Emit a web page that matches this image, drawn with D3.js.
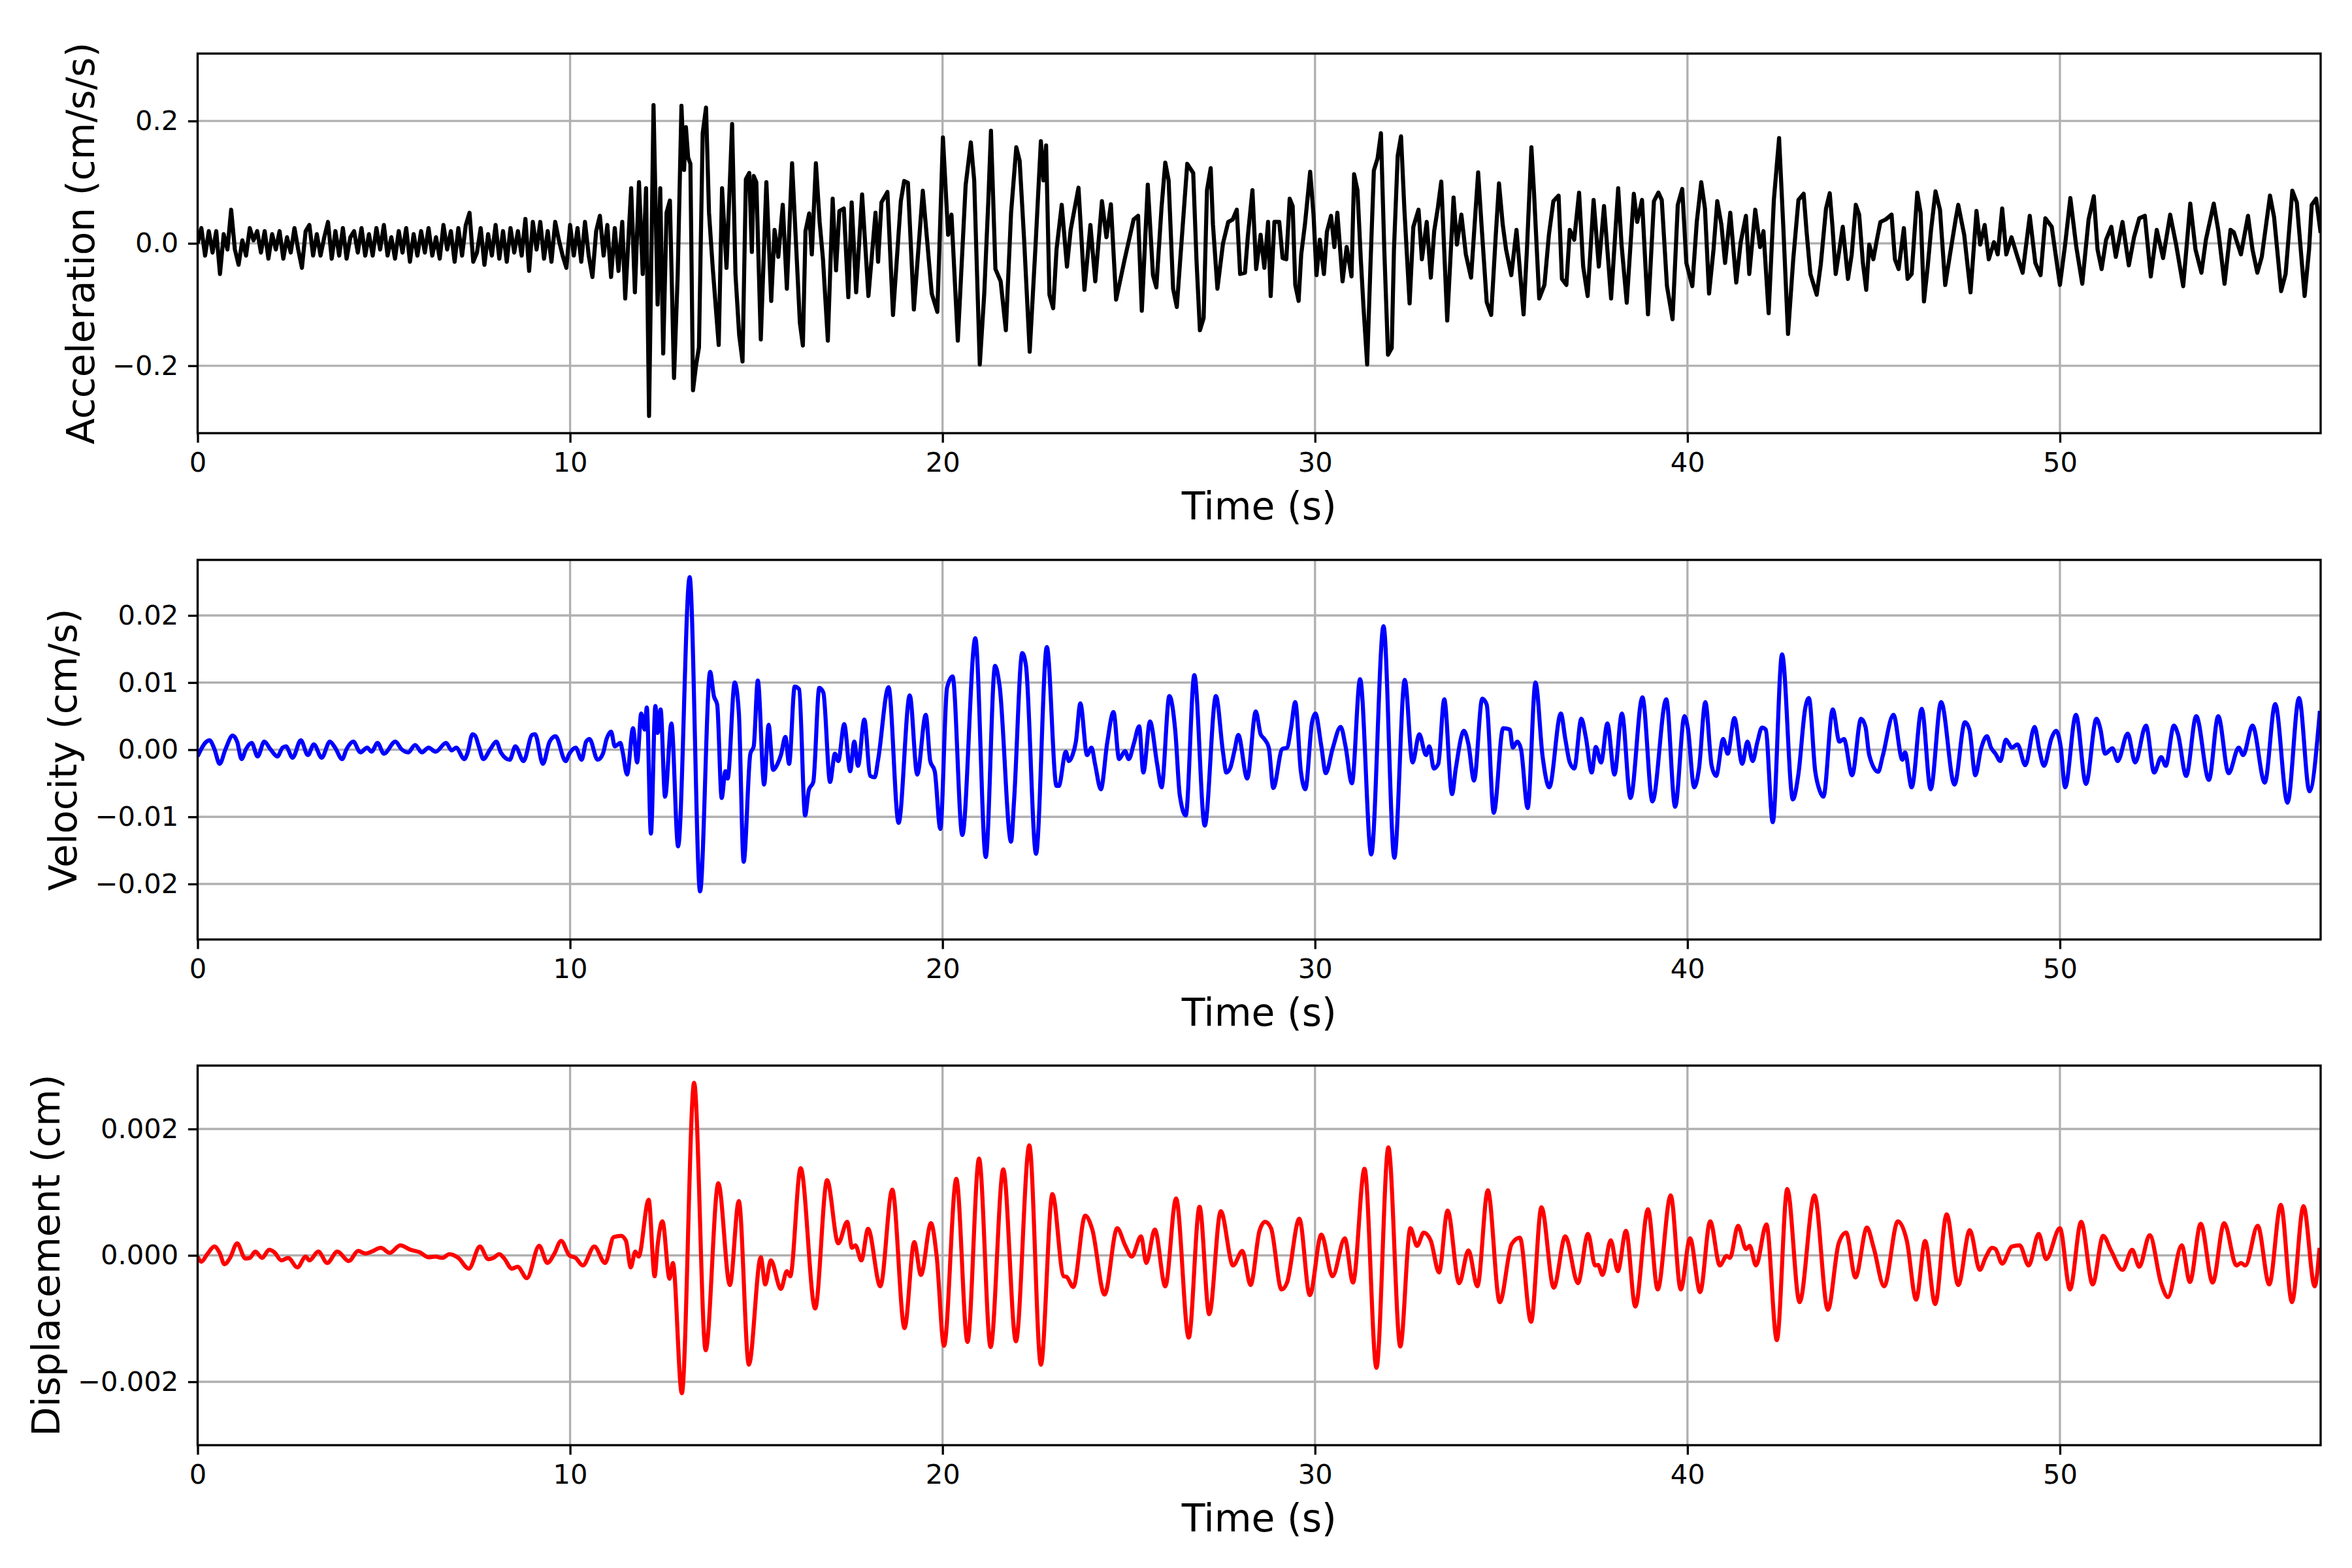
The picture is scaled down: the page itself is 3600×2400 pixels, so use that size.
<!DOCTYPE html>
<html>
<head>
<meta charset="utf-8">
<script src="https://cdn.jsdelivr.net/npm/d3@7"></script>
<style>
  body { margin: 0; background: #fff; }
  text { font-family: "DejaVu Sans", sans-serif; fill: #000; }
</style>
</head>
<body>
<svg id="chart" width="3600" height="2400"></svg>
<script>
// values: [time (s), value]
const accelData = [
  [0.0,0.0],[0.1,0.025],[0.2,-0.02],[0.3,0.02],[0.4,-0.015],[0.5,0.02],[0.6,-0.05],[0.7,0.015],[0.8,-0.01],[0.9,0.055],
  [1.0,-0.01],[1.1,-0.035],[1.2,0.005],[1.3,-0.02],[1.4,0.025],[1.5,0.005],[1.6,0.02],[1.7,-0.015],[1.8,0.02],[1.9,-0.025],
  [2.0,0.015],[2.1,-0.01],[2.2,0.02],[2.3,-0.025],[2.4,0.01],[2.5,-0.015],[2.6,0.025],[2.7,-0.01],[2.8,-0.04],[2.9,0.02],
  [3.0,0.03],[3.1,-0.02],[3.2,0.015],[3.3,-0.02],[3.4,0.01],[3.5,0.035],[3.6,-0.025],[3.7,0.02],[3.8,-0.02],[3.9,0.025],
  [4.0,-0.025],[4.1,0.01],[4.2,0.02],[4.3,-0.015],[4.4,0.025],[4.5,-0.02],[4.6,0.015],[4.7,-0.02],[4.8,0.025],[4.9,-0.01],
  [5.0,0.03],[5.1,-0.02],[5.2,0.01],[5.3,-0.025],[5.4,0.02],[5.5,-0.015],[5.6,0.025],[5.7,-0.03],[5.8,0.015],[5.9,-0.02],
  [6.0,0.02],[6.1,-0.015],[6.2,0.025],[6.3,-0.02],[6.4,0.01],[6.5,-0.025],[6.6,0.03],[6.7,-0.01],[6.8,0.02],[6.9,-0.03],
  [7.0,0.025],[7.1,-0.02],[7.2,0.03],[7.3,0.05],[7.4,-0.03],[7.5,-0.015],[7.6,0.025],[7.7,-0.035],[7.8,0.015],[7.9,-0.02],
  [8.0,0.03],[8.1,-0.025],[8.2,0.02],[8.3,-0.03],[8.4,0.025],[8.5,-0.015],[8.6,0.02],[8.7,-0.02],[8.8,0.04],[8.9,-0.045],
  [9.0,0.035],[9.1,-0.01],[9.2,0.035],[9.3,-0.025],[9.4,0.02],[9.5,-0.03],[9.6,0.035],[9.7,0.005],[9.8,-0.02],[9.9,-0.04],
  [10.0,0.03],[10.1,-0.02],[10.2,0.025],[10.3,-0.03],[10.4,0.035],[10.5,-0.02],[10.6,-0.055],[10.7,0.02],[10.8,0.045],[10.9,-0.02],
  [11.0,0.03],[11.1,-0.055],[11.2,0.025],[11.3,-0.045],[11.4,0.035],
  [11.48,-0.09],[11.56,0.0],[11.64,0.09],[11.74,-0.08],[11.85,0.10],[11.95,-0.05],[12.04,0.09],[12.12,-0.282],[12.24,0.226],[12.35,-0.10],
  [12.42,0.09],[12.50,-0.18],[12.59,0.05],[12.68,0.07],[12.79,-0.22],[12.89,-0.05],[12.99,0.225],[13.06,0.12],[13.11,0.19],[13.17,0.14],
  [13.23,0.13],[13.30,-0.24],[13.38,-0.20],[13.46,-0.17],[13.56,0.18],[13.65,0.222],[13.73,0.05],[13.83,-0.04],[13.99,-0.166],
  [14.08,0.09],[14.20,-0.04],[14.35,0.195],[14.44,-0.05],[14.54,-0.15],[14.63,-0.193],[14.72,0.105],[14.81,0.115],[14.88,-0.014],[14.93,0.11],
  [15.00,0.10],[15.12,-0.157],[15.27,0.10],[15.40,-0.094],[15.49,0.022],[15.59,-0.022],[15.71,0.063],[15.82,-0.074],[15.96,0.131],[16.08,-0.018],
  [16.17,-0.13],[16.25,-0.167],[16.32,0.02],[16.42,0.049],[16.49,-0.018],[16.60,0.131],[16.70,0.035],[16.79,-0.026],[16.92,-0.159],[17.05,0.073],
  [17.14,-0.044],[17.23,0.053],[17.35,0.057],[17.47,-0.088],[17.56,0.067],[17.68,-0.08],[17.84,0.08],[18.01,-0.086],[18.20,0.05],[18.27,-0.03],
  [18.36,0.067],[18.52,0.084],[18.67,-0.117],[18.88,0.069],[18.97,0.102],[19.07,0.099],[19.23,-0.108],[19.47,0.086],[19.71,-0.082],[19.86,-0.112],
  [20.01,0.173],[20.15,0.014],[20.24,0.047],[20.41,-0.159],[20.62,0.095],[20.76,0.165],[20.85,0.103],[21.00,-0.198],[21.12,-0.082],[21.23,0.071],
  [21.30,0.184],[21.42,-0.042],[21.56,-0.062],[21.70,-0.142],[21.84,0.05],[21.98,0.157],[22.07,0.135],[22.19,0.006],[22.34,-0.177],[22.50,0.0],
  [22.64,0.167],[22.71,0.103],[22.78,0.16],[22.87,-0.084],[22.97,-0.106],[23.06,-0.01],[23.20,0.063],[23.34,-0.038],[23.44,0.022],[23.65,0.091],
  [23.81,-0.076],[23.97,0.03],[24.10,-0.062],[24.28,0.069],[24.40,0.01],[24.52,0.064],[24.66,-0.092],[24.89,-0.026],[25.13,0.039],[25.25,0.045],
  [25.35,-0.11],[25.51,0.096],[25.65,-0.052],[25.74,-0.072],[25.88,0.059],[25.98,0.132],[26.07,0.103],[26.19,-0.074],[26.29,-0.104],[26.38,-0.028],
  [26.57,0.13],[26.73,0.115],[26.82,-0.03],[26.91,-0.142],[27.01,-0.122],[27.10,0.087],[27.20,0.123],[27.26,0.031],[27.38,-0.074],[27.53,0.0],
  [27.67,0.035],[27.79,0.039],[27.90,0.055],[27.99,-0.05],[28.12,-0.048],[28.20,0.014],[28.32,0.087],[28.42,-0.042],[28.54,0.014],[28.64,-0.04],
  [28.74,0.035],[28.81,-0.086],[28.91,0.035],[29.04,0.035],[29.13,-0.024],[29.23,-0.026],[29.32,0.073],[29.40,0.061],[29.47,-0.068],[29.56,-0.094],
  [29.63,-0.018],[29.73,0.031],[29.87,0.117],[29.96,0.047],[30.04,-0.052],[30.13,0.006],[30.24,-0.05],[30.32,0.019],[30.43,0.045],[30.52,-0.006],
  [30.60,0.05],[30.74,-0.062],[30.85,-0.006],[30.98,-0.054],[31.05,0.113],[31.14,0.087],[31.23,-0.026],[31.30,-0.102],[31.40,-0.198],[31.49,-0.034],
  [31.58,0.119],[31.68,0.139],[31.77,0.18],[31.86,-0.01],[31.96,-0.182],[32.06,-0.171],[32.12,-0.01],[32.22,0.143],[32.31,0.175],[32.40,0.055],
  [32.54,-0.098],[32.64,0.027],[32.78,0.055],[32.87,-0.026],[33.00,0.035],[33.11,-0.056],[33.20,0.02],[33.30,0.059],[33.39,0.101],[33.55,-0.126],
  [33.72,0.075],[33.81,-0.002],[33.93,0.047],[34.05,-0.018],[34.19,-0.056],[34.38,0.116],[34.47,0.031],[34.61,-0.096],[34.73,-0.117],[34.85,0.01],
  [34.94,0.098],[35.04,0.031],[35.13,-0.01],[35.27,-0.052],[35.41,0.022],[35.60,-0.116],[35.69,-0.01],[35.81,0.157],[35.88,0.083],[36.02,-0.09],
  [36.16,-0.068],[36.28,0.014],[36.40,0.069],[36.54,0.078],[36.63,-0.058],[36.75,-0.068],[36.84,0.022],[36.96,0.006],[37.09,0.083],[37.20,-0.038],
  [37.32,-0.086],[37.48,0.071],[37.62,-0.038],[37.76,0.061],[37.95,-0.09],[38.14,0.09],[38.23,-0.002],[38.37,-0.097],[38.56,0.081],[38.65,0.035],
  [38.78,0.071],[38.94,-0.116],[39.10,0.069],[39.22,0.083],[39.31,0.071],[39.45,-0.07],[39.60,-0.124],[39.74,0.063],[39.86,0.089],[39.97,-0.032],
  [40.13,-0.07],[40.25,0.035],[40.37,0.10],[40.47,0.057],[40.58,-0.082],[40.70,-0.01],[40.80,0.069],[40.91,0.031],[41.01,-0.032],[41.15,0.05],
  [41.31,-0.064],[41.43,0.002],[41.57,0.045],[41.66,-0.05],[41.82,0.055],[41.95,-0.006],[42.04,0.02],[42.18,-0.114],[42.32,0.071],[42.46,0.172],
  [42.57,0.031],[42.70,-0.148],[42.84,-0.026],[42.98,0.071],[43.12,0.081],
  [43.20,0.018],[43.30,-0.05],[43.47,-0.084],[43.58,-0.034],[43.72,0.057],[43.82,0.082],[43.89,0.03],[43.98,-0.05],[44.08,-0.01],[44.17,0.027],
  [44.31,-0.058],[44.41,-0.018],[44.52,0.063],[44.61,0.047],[44.71,-0.032],[44.80,-0.076],[44.88,-0.002],[44.99,-0.026],[45.08,0.004],[45.18,0.035],
  [45.32,0.039],[45.48,0.047],[45.57,-0.026],[45.67,-0.042],[45.81,0.025],[45.91,-0.058],[46.02,-0.05],[46.17,0.083],[46.26,0.05],[46.35,-0.095],
  [46.45,-0.038],[46.54,0.022],[46.66,0.085],[46.78,0.055],[46.92,-0.068],[47.06,-0.014],[47.20,0.039],[47.27,0.063],[47.43,0.014],[47.60,-0.08],
  [47.76,0.053],[47.86,-0.002],[47.98,0.03],[48.09,-0.026],[48.23,0.002],[48.33,-0.018],[48.45,0.057],[48.56,-0.018],[48.70,0.01],[48.86,-0.022],
  [49.00,-0.048],[49.19,0.045],[49.34,-0.032],[49.48,-0.052],[49.61,0.041],[49.78,0.027],[50.00,-0.068],[50.14,-0.002],[50.28,0.074],[50.44,-0.006],
  [50.60,-0.066],[50.77,0.039],[50.91,0.077],[51.01,-0.01],[51.12,-0.042],[51.24,0.006],[51.38,0.027],[51.50,-0.022],[51.68,0.035],[51.85,-0.036],
  [51.99,0.01],[52.13,0.041],[52.28,0.045],[52.44,-0.054],[52.60,0.022],[52.77,-0.024],[52.96,0.047],[53.12,-0.002],[53.31,-0.07],[53.50,0.065],
  [53.64,-0.01],[53.80,-0.048],[53.92,0.006],[54.13,0.065],[54.25,0.022],[54.42,-0.066],[54.58,0.022],[54.67,0.018],[54.86,-0.018],[55.05,0.045],
  [55.17,-0.01],[55.30,-0.048],[55.42,-0.022],[55.64,0.078],[55.75,0.043],[55.94,-0.078],[56.06,-0.05],[56.24,0.086],[56.36,0.067],[56.57,-0.086],
  [56.69,-0.01],[56.76,0.063],[56.88,0.073],[57.00,0.017]
];

const velocityData = [
  [0.0,-0.001],[0.2,0.001],[0.32,0.0014],[0.45,0.0001],[0.59,-0.0021],[0.75,0.0001],[0.94,0.0021],[1.06,0.0012],[1.18,-0.0014],[1.30,0.0001],
  [1.45,0.001],[1.61,-0.001],[1.79,0.0012],[1.95,0.0001],[2.14,-0.001],[2.28,0.0003],[2.37,0.0005],[2.55,-0.0012],[2.77,0.0014],[2.96,-0.0008],
  [3.12,0.0008],[3.33,-0.0012],[3.55,0.0012],[3.69,0.0003],[3.88,-0.0014],[4.00,0.0001],[4.18,0.0012],[4.37,-0.0004],[4.55,0.0003],[4.67,-0.0003],
  [4.83,0.001],[5.00,-0.0006],[5.31,0.0012],[5.47,0.0001],[5.65,-0.0004],[5.84,0.0007],[6.02,-0.0004],[6.20,0.0003],[6.39,-0.0003],[6.67,0.001],
  [6.82,-0.0001],[6.94,0.0003],[7.16,-0.0014],[7.24,-0.0006],[7.38,0.0023],[7.45,0.0021],[7.55,0.0005],[7.67,-0.0014],[7.86,0.0001],[8.02,0.0012],
  [8.14,-0.0004],[8.38,-0.0015],[8.53,0.0005],[8.75,-0.0017],[8.98,0.0022],[9.06,0.0023],[9.27,-0.0021],[9.45,0.0012],[9.61,0.002],[9.88,-0.0017],
  [9.98,-0.0006],[10.15,0.0003],[10.31,-0.0015],[10.43,0.0012],[10.52,0.0016],[10.74,-0.0015],[10.88,-0.0006],[10.98,0.0016],[11.10,0.0027],[11.20,0.0005],
  [11.35,0.001],[11.41,-0.0003],[11.53,-0.0037],[11.69,0.0032],[11.80,-0.0019],[11.91,0.0054],[12.00,0.003],[12.06,0.0063],[12.17,-0.0125],[12.29,0.0065],
  [12.35,0.0025],[12.43,0.006],[12.55,-0.007],[12.72,0.0039],[12.90,-0.0144],[13.21,0.0257],[13.49,-0.0211],[13.76,0.0116],[13.86,0.008],[13.95,0.0067],
  [14.07,-0.0072],[14.17,-0.0032],[14.23,-0.0043],[14.42,0.01],[14.53,0.0056],[14.66,-0.0167],[14.84,-0.0006],[14.93,0.0005],[15.04,0.0103],[15.21,-0.0052],
  [15.33,0.0037],[15.45,-0.003],[15.57,-0.0021],[15.66,-0.0008],[15.78,0.0019],[15.88,-0.0021],[16.03,0.0094],[16.15,0.009],[16.31,-0.0098],[16.41,-0.006],
  [16.53,-0.0048],[16.69,0.0092],[16.80,0.0085],[16.98,-0.0048],[17.11,-0.0006],[17.20,-0.0017],[17.36,0.0038],[17.52,-0.0032],[17.63,0.0012],[17.73,-0.0024],
  [17.90,0.0045],[18.06,-0.0039],[18.18,-0.0041],[18.27,-0.0015],[18.55,0.0093],[18.82,-0.0109],[19.12,0.0081],[19.32,-0.0037],[19.55,0.0052],[19.67,-0.0017],
  [19.79,-0.0032],[19.94,-0.0118],[20.12,0.0092],[20.27,0.0109],[20.53,-0.0127],[20.88,0.0166],[21.16,-0.016],[21.41,0.0125],[21.53,0.0096],[21.84,-0.0137],
  [21.92,-0.0076],[22.14,0.0144],[22.24,0.0125],[22.51,-0.0155],[22.80,0.0153],[23.06,-0.0054],[23.12,-0.0054],[23.31,-0.0003],[23.39,-0.0017],[23.49,-0.0008],
  [23.58,0.0012],[23.70,0.0069],[23.88,-0.0008],[24.00,0.0003],[24.10,-0.0023],[24.25,-0.0059],[24.42,0.001],[24.59,0.0056],[24.74,-0.0014],[24.90,-0.0002],
  [25.00,-0.0014],[25.14,0.001],[25.28,0.0035],[25.39,-0.0034],[25.57,0.0042],[25.76,-0.0021],[25.88,-0.0056],[26.09,0.008],[26.25,0.0027],[26.37,-0.0068],
  [26.53,-0.0098],[26.76,0.0111],[27.04,-0.0113],[27.34,0.008],[27.53,-0.0004],[27.62,-0.0034],[27.72,-0.0028],[27.84,-0.0001],[27.94,0.0022],[28.18,-0.0043],
  [28.41,0.0057],[28.54,0.0023],[28.64,0.0016],[28.76,0.0003],[28.88,-0.0057],[29.12,0.0001],[29.25,0.0003],[29.35,0.003],[29.47,0.0071],[29.62,-0.0032],
  [29.74,-0.0059],[29.92,0.0041],[30.01,0.0054],[30.17,0.0005],[30.29,-0.0035],[30.47,0.0001],[30.69,0.0034],[30.82,0.0005],[30.99,-0.005],[31.21,0.0105],
  [31.51,-0.0156],[31.84,0.0184],[32.13,-0.0161],[32.41,0.0104],[32.62,-0.0019],[32.80,0.0023],[32.98,-0.0008],[33.07,0.0005],[33.19,-0.0028],[33.31,-0.0021],
  [33.47,0.0075],[33.68,-0.0066],[33.78,-0.0028],[34.00,0.0028],[34.12,0.0008],[34.27,-0.0046],[34.49,0.0076],[34.61,0.0067],[34.80,-0.0094],[35.05,0.0032],
  [35.23,0.003],[35.31,0.0003],[35.43,0.0012],[35.53,0.0001],[35.71,-0.0087],[35.92,0.01],[36.11,-0.001],[36.29,-0.0056],[36.60,0.0054],[36.72,0.0016],
  [36.84,-0.0019],[36.96,-0.0028],[37.15,0.0046],[37.27,0.0019],[37.43,-0.0034],[37.54,0.0004],[37.68,-0.0019],[37.85,0.0039],[38.04,-0.0037],[38.24,0.0054],
  [38.47,-0.0072],[38.79,0.0078],[39.06,-0.0077],[39.43,0.0075],[39.67,-0.0085],[39.92,0.005],[40.01,0.0032],[40.18,-0.0056],[40.31,-0.0028],[40.48,0.0071],
  [40.65,-0.0024],[40.77,-0.0039],[40.96,0.0016],[41.08,-0.0006],[41.26,0.0047],[41.47,-0.0021],[41.61,0.0012],[41.75,-0.0017],[41.88,0.0012],[42.00,0.0033],
  [42.10,0.003],[42.29,-0.0108],[42.54,0.0142],[42.83,-0.0074],[42.98,-0.0036],[43.16,0.0061],[43.26,0.0077],[43.43,-0.0032],[43.55,-0.0061],[43.65,-0.007],
  [43.90,0.006],[44.08,0.0012],[44.20,0.0016],[44.42,-0.0038],[44.66,0.0046],[44.78,0.0034],[44.88,-0.0008],[45.12,-0.0033],[45.24,-0.001],[45.53,0.0052],
  [45.77,-0.0015],[45.84,-0.0004],[46.02,-0.0056],[46.29,0.0061],[46.53,-0.0059],[46.81,0.0071],[47.17,-0.0052],[47.45,0.0041],[47.57,0.003],[47.73,-0.0038],
  [47.88,0.0001],[48.04,0.002],[48.15,0.0003],[48.27,-0.0006],[48.40,-0.0017],[48.55,0.0015],[48.71,0.0003],[48.86,0.0008],[49.07,-0.0023],[49.32,0.0034],
  [49.45,-0.0001],[49.57,-0.0024],[49.78,0.0018],[49.90,0.0028],[50.02,0.0005],[50.14,-0.0056],[50.43,0.0052],[50.70,-0.0051],[50.98,0.0046],[51.09,0.003],
  [51.21,-0.0006],[51.41,0.0002],[51.55,-0.0017],[51.82,0.0024],[52.02,-0.0019],[52.31,0.0036],[52.53,-0.0034],[52.72,-0.0011],[52.84,-0.0024],[53.06,0.0036],
  [53.17,0.0023],[53.39,-0.0039],[53.66,0.005],[54.00,-0.0045],[54.25,0.005],[54.53,-0.0035],[54.80,0.0003],[54.92,-0.0008],[55.17,0.0036],[55.50,-0.0049],
  [55.78,0.0068],[56.11,-0.0079],[56.42,0.0077],[56.70,-0.0062],[56.98,0.0058]
];

const displacementData = [
  [0.0,-0.00002],[0.10,-0.0001],[0.26,0.00002],[0.45,0.00014],[0.59,0.00004],[0.72,-0.00014],[0.87,-0.00004],[1.06,0.00019],[1.28,-0.00005],[1.40,-0.00004],
  [1.55,0.00006],[1.73,-0.00004],[1.92,0.00009],[2.06,0.00005],[2.25,-0.00008],[2.43,-0.00004],[2.68,-0.00019],[2.90,-0.00002],[3.00,-0.00008],[3.24,0.00006],
  [3.48,-0.00012],[3.75,0.00006],[4.06,-0.00009],[4.31,0.00007],[4.51,0.00003],[4.67,0.00006],[4.92,0.00012],[5.16,0.00004],[5.44,0.00016],[5.71,0.00009],
  [5.96,0.00005],[6.20,-0.00003],[6.39,-0.00002],[6.57,-0.00004],[6.76,0.00002],[7.00,-0.00004],[7.28,-0.00021],[7.58,0.00014],[7.80,-0.00006],[7.94,-0.00004],
  [8.10,0.00002],[8.22,-0.00004],[8.44,-0.00021],[8.59,-0.00018],[8.84,-0.00036],[9.17,0.00015],[9.39,-0.00012],[9.57,0.00002],[9.76,0.00023],[9.98,0.0],
  [10.15,-0.00004],[10.34,-0.00016],[10.65,0.00014],[10.94,-0.00012],[11.17,0.00029],[11.37,0.00031],[11.50,0.00023],[11.63,-0.00019],[11.75,0.00006],[11.84,-0.00002],
  [12.11,0.00088],[12.27,-0.00033],[12.35,0.00016],[12.48,0.00054],[12.67,-0.00037],[12.76,-0.00012],[13.00,-0.00218],[13.33,0.00273],[13.64,-0.0015],[13.98,0.00114],
  [14.29,-0.00047],[14.53,0.00086],[14.80,-0.00173],[15.12,-0.00003],[15.24,-0.00046],[15.39,-0.00008],[15.66,-0.00053],[15.82,-0.00025],[15.91,-0.00033],[16.19,0.00138],
  [16.58,-0.00084],[16.90,0.00119],[17.20,0.00019],[17.44,0.00053],[17.57,0.00012],[17.66,0.00016],[17.82,-0.00008],[18.00,0.00042],[18.33,-0.00049],[18.65,0.00104],
  [18.98,-0.00115],[19.24,0.00021],[19.42,-0.00031],[19.69,0.00051],[19.84,0.0],[20.04,-0.00143],[20.37,0.00121],[20.67,-0.00137],[20.98,0.00153],[21.29,-0.00145],
  [21.63,0.00136],[21.97,-0.00136],[22.33,0.00174],[22.64,-0.00173],[22.95,0.00097],[23.25,-0.00033],[23.33,-0.00034],[23.51,-0.0005],[23.83,0.00063],[24.02,0.00041],
  [24.35,-0.00062],[24.69,0.00043],[24.90,0.00016],[25.08,-0.00002],[25.33,0.0003],[25.47,-0.00012],[25.70,0.00041],[25.98,-0.00049],[26.27,0.0009],[26.61,-0.0013],
  [26.90,0.00077],[27.16,-0.00093],[27.47,0.0007],[27.80,-0.00016],[28.05,0.00007],[28.27,-0.00047],[28.51,0.00039],[28.66,0.00053],[28.82,0.00043],[29.10,-0.00054],
  [29.25,-0.00043],[29.58,0.00058],[29.86,-0.00063],[30.17,0.00033],[30.47,-0.00033],[30.80,0.00027],[31.02,-0.00043],[31.33,0.00137],[31.65,-0.00178],[31.97,0.00171],
  [32.29,-0.00144],[32.56,0.00043],[32.74,0.00015],[32.92,0.00036],[33.11,0.00023],[33.33,-0.00027],[33.56,0.00071],[33.87,-0.00044],[34.12,0.00008],[34.36,-0.00049],
  [34.64,0.00103],[34.96,-0.00074],[35.28,0.00018],[35.50,0.00028],[35.80,-0.00105],[36.08,0.00076],[36.41,-0.00051],[36.72,0.0003],[37.06,-0.00044],[37.33,0.00034],
  [37.52,-0.00016],[37.60,-0.00015],[37.72,-0.00031],[37.94,0.00024],[38.13,-0.00025],[38.35,0.00039],[38.60,-0.00081],[38.94,0.00073],[39.20,-0.00054],[39.55,0.00095],
  [39.82,-0.00054],[40.07,0.00027],[40.34,-0.00058],[40.61,0.00054],[40.87,-0.00016],[41.05,-0.00001],[41.14,-0.00004],[41.36,0.00047],[41.57,0.0001],[41.67,0.00015],
  [41.84,-0.00016],[42.12,0.00049],[42.40,-0.00134],[42.68,0.00105],[43.01,-0.00074],[43.41,0.00095],[43.77,-0.00086],[44.06,0.00019],[44.26,0.00036],[44.51,-0.00035],
  [44.82,0.00044],[45.00,0.00012],[45.28,-0.00049],[45.65,0.00054],[45.89,0.00023],[46.14,-0.0007],[46.38,0.00023],[46.65,-0.00077],[46.96,0.00065],[47.27,-0.00047],
  [47.58,0.0004],[47.85,-0.00023],[48.00,-0.00004],[48.18,0.00012],[48.27,0.0001],[48.45,-0.00013],[48.71,0.00014],[48.92,0.00016],[49.16,-0.00016],[49.43,0.00034],
  [49.63,-0.00006],[50.00,0.00043],[50.27,-0.00054],[50.57,0.00053],[50.88,-0.00046],[51.16,0.00031],[51.37,0.00008],[51.68,-0.00023],[51.94,0.00009],[52.13,-0.00018],
  [52.41,0.00032],[52.72,-0.00045],[52.90,-0.00066],[53.27,0.00016],[53.49,-0.00042],[53.78,0.0005],[54.10,-0.00043],[54.41,0.00051],[54.74,-0.00016],[54.86,-0.00012],
  [54.98,-0.00016],[55.31,0.00047],[55.62,-0.00046],[55.93,0.0008],[56.23,-0.00074],[56.54,0.00078],[56.84,-0.00049],[56.97,0.00012]
];

const timeTicks = [0, 10, 20, 30, 40, 50];
const accelTicks = [-0.2, 0.0, 0.2];
const velocityTicks = [-0.02, -0.01, 0.0, 0.01, 0.02];
const displacementTicks = [-0.002, 0.0, 0.002];
const timeRange = [0, 57];

const svg = d3.select("#chart");
const margin = {left: 302.5, right: 48};
const width = 3600 - margin.left - margin.right;
const height = 581;
const tickFont = 41.67, labelFont = 58.33;
const tickLen = 14.6, tickPad = 14.6;

const panels = [
  {data: accelData, ticks: accelTicks, fmt: d3.format(".1f"), color: "#000000",
   label: "Acceleration (cm/s/s)", curve: d3.curveLinear, top: 82},
  {data: velocityData, ticks: velocityTicks, fmt: d3.format(".2f"), color: "#0000ff",
   label: "Velocity (cm/s)", curve: d3.curveMonotoneX, top: 857},
  {data: displacementData, ticks: displacementTicks, fmt: d3.format(".3f"), color: "#ff0000",
   label: "Displacement (cm)", curve: d3.curveMonotoneX, top: 1631}
];

const x = d3.scaleLinear().domain(timeRange).range([0, width]);

panels.forEach((p, i) => {
  const g = svg.append("g").attr("transform", `translate(${margin.left},${p.top})`);
  const ymax = 1.1 * d3.max(p.data, d => Math.abs(d[1]));
  const y = d3.scaleLinear().domain([-ymax, ymax]).range([height, 0]);

  g.append("clipPath").attr("id", `clip${i}`)
    .append("rect").attr("width", width).attr("height", height);

  // grid
  g.append("g").selectAll("line").data(timeTicks).join("line")
    .attr("x1", d => x(d)).attr("x2", d => x(d))
    .attr("y1", 0).attr("y2", height)
    .attr("stroke", "#b0b0b0").attr("stroke-width", 3.33);
  g.append("g").selectAll("line").data(p.ticks).join("line")
    .attr("x1", 0).attr("x2", width)
    .attr("y1", d => y(d)).attr("y2", d => y(d))
    .attr("stroke", "#b0b0b0").attr("stroke-width", 3.33);

  const line = d3.line().x(d => x(d[0])).y(d => y(d[1])).curve(p.curve);
  g.append("path").datum(p.data)
    .attr("clip-path", `url(#clip${i})`)
    .attr("d", line)
    .attr("fill", "none")
    .attr("stroke", p.color)
    .attr("stroke-width", 6.25)
    .attr("stroke-linejoin", "round");

  // frame
  g.append("rect").attr("width", width).attr("height", height)
    .attr("fill", "none").attr("stroke", "#000").attr("stroke-width", 3.33);

  const xAxis = g.append("g").attr("transform", `translate(0,${height})`)
    .call(d3.axisBottom(x).tickValues(timeTicks).tickFormat(d3.format("d"))
      .tickSize(tickLen).tickPadding(tickPad));
  const yAxis = g.append("g")
    .call(d3.axisLeft(y).tickValues(p.ticks).tickFormat(p.fmt)
      .tickSize(tickLen).tickPadding(tickPad));

  [xAxis, yAxis].forEach(a => {
    a.select(".domain").remove();
    a.selectAll(".tick line").attr("stroke", "#000").attr("stroke-width", 3.33);
    a.selectAll(".tick text").attr("font-size", tickFont)
      .attr("font-family", "DejaVu Sans").attr("fill", "#000");
  });

  g.append("text")
    .attr("x", width / 2).attr("y", height + 132)
    .attr("text-anchor", "middle")
    .attr("font-size", labelFont)
    .text("Time (s)");

  // tick text bbox x already includes the tick length and padding
  const tickLeft = d3.min(yAxis.selectAll(".tick text").nodes(), n => n.getBBox().x);
  const labelX = tickLeft - 16.7 - 0.2 * labelFont;
  g.append("text")
    .attr("transform", `translate(${labelX},${height / 2}) rotate(-90)`)
    .attr("text-anchor", "middle")
    .attr("font-size", labelFont)
    .text(p.label);
});
</script>
</body>
</html>
